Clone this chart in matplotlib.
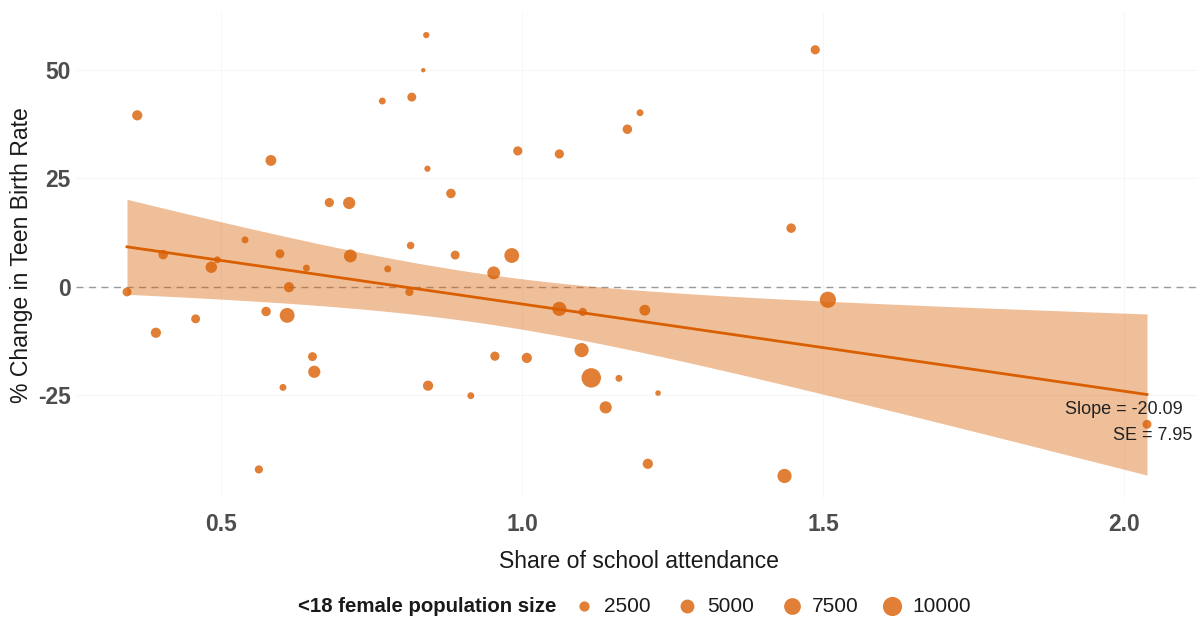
import numpy as np
import matplotlib
matplotlib.use("Agg")
import matplotlib.pyplot as plt

plt.rcParams['font.family'] = ['Liberation Sans', 'DejaVu Sans']

# ---- data ----
attendance = [0.361, 0.344, 0.583, 0.680, 0.713, 0.540, 0.404, 0.484, 0.494, 0.598, 0.642, 0.715, 0.777, 0.613, 0.768,
              0.841, 0.836, 0.817, 0.843, 0.882, 0.993, 1.062, 1.175, 1.196, 0.815, 0.889, 0.953, 0.983, 1.447, 0.813,
              1.487, 1.508,
              0.392, 0.458, 0.575, 0.610, 0.652, 0.655, 0.603, 0.563,
              1.062, 1.101, 1.204, 1.099, 1.115, 1.161, 1.226, 0.955, 1.008, 0.844, 0.915, 1.139, 1.209, 1.436,
              2.038]
birth_change = [39.5, -1.2, 29.1, 19.4, 19.3, 10.8, 7.4, 4.5, 6.2, 7.6, 4.3, 7.1, 4.1, -0.1, 42.8,
                58.0, 49.9, 43.7, 27.2, 21.5, 31.3, 30.6, 36.3, 40.1, 9.5, 7.3, 3.2, 7.2, 13.5, -1.2,
                54.6, -3.0,
                -10.6, -7.4, -5.7, -6.6, -16.1, -19.6, -23.2, -42.1,
                -5.1, -5.8, -5.4, -14.6, -21.0, -21.1, -24.5, -16.0, -16.4, -22.8, -25.1, -27.8, -40.8, -43.6,
                -31.7]
population = [2500, 1800, 2900, 1950, 3760, 900, 2100, 3300, 900, 1800, 900, 4250, 900, 2500, 900,
              660, 100, 1800, 660, 2100, 1950, 1950, 2100, 900, 1150, 1800, 4250, 5800, 2100, 1450,
              1950, 7000,
              2500, 1800, 2100, 5800, 1800, 3760, 900, 1450,
              5260, 1450, 2900, 5260, 10300, 900, 430, 1950, 2500, 2500, 900, 3760, 2500, 5260,
              1800]
legend_breaks = [2500, 5000, 7500, 10000]
x_ticks = [0.5, 1.0, 1.5, 2.0]
y_ticks = [-25, 0, 25, 50]

# fitted model as shown in the chart (slope and SE are printed on it)
fit_slope = -20.09
fit_slope_se = 7.95
fit_intercept = 16.11
fit_center_x = 0.93        # x where the confidence band is narrowest
fit_center_halfwidth = 5.7  # half-width of the band at that point
t_crit = 2.006
slope_label = f"Slope = {fit_slope:.2f}"
se_label = f"SE = {fit_slope_se:.2f}"

# ---- styles ----
DPI = 100
LINE_COL = "#D95F02"
TICK_COL = "#4D4D4D"
TEXT_COL = "#1A1A1A"


def marker_area(v):
    d_px = np.sqrt(16 + 0.0352 * np.asarray(v, dtype=float))
    return (d_px * 72.0 / DPI) ** 2


x = np.array(attendance)
y = np.array(birth_change)
w = np.array(population, dtype=float)

xg = np.linspace(x.min(), x.max(), 100)
fit = fit_intercept + fit_slope * xg
se_mean = fit_center_halfwidth / t_crit
se_fit = np.sqrt(se_mean ** 2 + (fit_slope_se * (xg - fit_center_x)) ** 2)
lo = fit - t_crit * se_fit
hi = fit + t_crit * se_fit

fig = plt.figure(figsize=(12.04, 6.21), dpi=DPI)
W, H = 1204, 621
ax = fig.add_axes([76 / W, 1 - 498 / H, (1198 - 76) / W, (498 - 13) / H])

ax.axhline(0, color="#9A9A9A", lw=1.0, dashes=(5, 4), zorder=1)
ax.fill_between(xg, lo, hi, color=LINE_COL, alpha=0.4, lw=0, zorder=2)
ax.scatter(x, y, s=marker_area(w), color=LINE_COL, alpha=0.8, lw=0, zorder=3)
ax.plot(xg, fit, color=LINE_COL, lw=2.0, zorder=4)

ax.text(x.max() + 0.060, -28.3, slope_label, ha="right", va="center", fontsize=13, color="#222222", zorder=5)
ax.text(x.max() + 0.076, -34.3, se_label, ha="right", va="center", fontsize=13, color="#222222", zorder=5)

xr = x.max() - x.min()
allmin = min(y.min(), lo.min())
allmax = max(y.max(), hi.max())
yr = allmax - allmin
ax.set_xlim(x.min() - 0.05 * xr, x.max() + 0.05 * xr)
ax.set_ylim(allmin - 0.05 * yr, allmax + 0.05 * yr)

ax.set_xticks(x_ticks)
ax.set_xticklabels([f"{t:.1f}" for t in x_ticks])
ax.set_yticks(y_ticks)
ax.set_yticklabels([str(t) for t in y_ticks])
for lab in ax.get_xticklabels() + ax.get_yticklabels():
    lab.set_fontweight("bold")
    lab.set_color(TICK_COL)
    lab.set_fontsize(16.5)
ax.tick_params(axis="both", length=0)
ax.tick_params(axis="x", pad=11)
ax.tick_params(axis="y", pad=4)
ax.grid(True, color="#F7F7F7", lw=0.8)
ax.set_axisbelow(True)
for sp in ax.spines.values():
    sp.set_visible(False)

fig.text(22 / W, 1 - 255 / H, "% Change in Teen Birth Rate", rotation=90, ha="center", va="center",
         fontsize=16.6, color=TEXT_COL)
fig.text(639 / W, 1 - 562 / H, "Share of school attendance", ha="center", va="center",
         fontsize=16.6, color=TEXT_COL)

# manual horizontal legend
fig.text(298 / W, 1 - 606 / H, "<18 female population size", ha="left", va="center",
         fontsize=14.7, fontweight="bold", color=TEXT_COL)
lax = fig.add_axes([0, 0, 1, 1], facecolor="none")
lax.set_xlim(0, W)
lax.set_ylim(H, 0)
lax.axis("off")
dot_x = [584, 687, 792, 892]
for px, b in zip(dot_x, legend_breaks):
    lax.scatter([px], [606], s=marker_area(b), color=LINE_COL, alpha=0.8, lw=0)
    lax.text(px + 20, 606, str(b), ha="left", va="center", fontsize=15, color=TEXT_COL)

fig.savefig("out.png", dpi=DPI)
